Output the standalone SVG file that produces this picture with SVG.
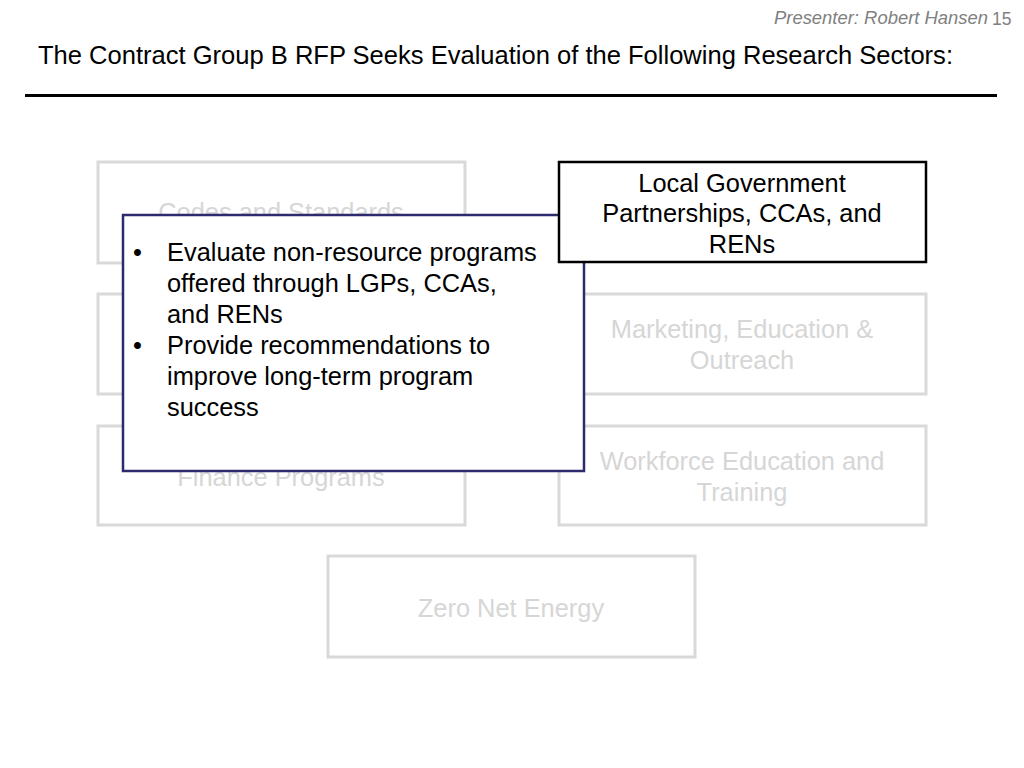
<svg xmlns="http://www.w3.org/2000/svg" width="1024" height="768" viewBox="0 0 1024 768">
<style>
text{font-family:"Liberation Sans",Arial,sans-serif}
.g rect{fill:#fff;stroke:#d9d9d9;stroke-width:3}
.g text{fill:#d6d6d6;font-size:25.4px;text-anchor:middle}
.b text{fill:#000;font-size:25.4px}
</style>
<rect width="1024" height="768" fill="#fff"/>
<text x="774" y="24" font-size="17.5" font-style="italic" fill="#808080" textLength="214" lengthAdjust="spacingAndGlyphs">Presenter: Robert Hansen</text>
<text x="992" y="25" font-size="17.5" fill="#808080">15</text>
<text x="38" y="64" font-size="25.4" fill="#000" textLength="915" lengthAdjust="spacingAndGlyphs">The Contract Group B RFP Seeks Evaluation of the Following Research Sectors:</text>
<line x1="25" y1="95.5" x2="997" y2="95.5" stroke="#000" stroke-width="3"/>
<g id="codes" class="g"><rect x="98" y="162" width="367" height="101"/><text x="281" y="221">Codes and Standards</text></g>
<g id="left-middle" class="g"><rect x="98" y="294" width="367" height="100"/></g>
<g id="finance" class="g"><rect x="98" y="426" width="367" height="99"/><text x="281" y="486">Finance Programs</text></g>
<g id="marketing" class="g"><rect x="559" y="294" width="367" height="100"/><text x="742" y="338">Marketing, Education &amp;</text><text x="742" y="369">Outreach</text></g>
<g id="workforce" class="g"><rect x="559" y="426" width="367" height="99"/><text x="742" y="470">Workforce Education and</text><text x="742" y="501">Training</text></g>
<g id="zne" class="g"><rect x="328" y="556" width="367" height="101"/><text x="511" y="617">Zero Net Energy</text></g>
<g id="popup" class="b"><rect x="123" y="215" width="461" height="256" fill="#fff" stroke="#2d2a6e" stroke-width="2.5"/>
<text x="133" y="261">•</text><text x="167" y="261">Evaluate non-resource programs</text>
<text x="167" y="292">offered through LGPs, CCAs,</text>
<text x="167" y="323">and RENs</text>
<text x="133" y="354">•</text><text x="167" y="354">Provide recommendations to</text>
<text x="167" y="385">improve long-term program</text>
<text x="167" y="416">success</text></g>
<g id="lgp" class="b"><rect x="559" y="162" width="367" height="100" fill="#fff" stroke="#000" stroke-width="2.5"/>
<text x="742" y="192" text-anchor="middle">Local Government</text>
<text x="742" y="222" text-anchor="middle">Partnerships, CCAs, and</text>
<text x="742" y="253" text-anchor="middle">RENs</text></g>
<g id="connectors"></g>
</svg>
